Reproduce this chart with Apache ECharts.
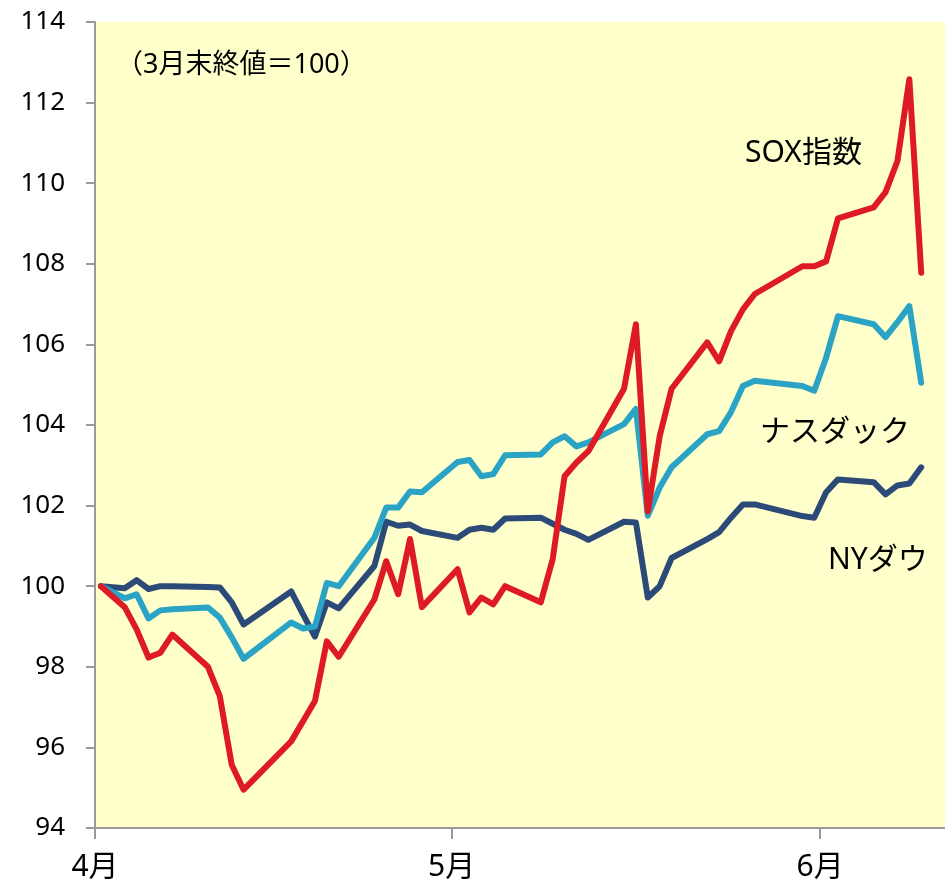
<!DOCTYPE html>
<html>
<head>
<meta charset="utf-8">
<script src="https://cdn.jsdelivr.net/npm/echarts@6/dist/echarts.min.js"></script>
<style>
  html, body { margin: 0; padding: 0; background: #fff; }
  #chart { width: 945px; height: 891px; }
</style>
</head>
<body>
<div id="chart"></div>
<script>
// 取引日（2017年）。先頭は3月末終値=100の基準点
var dates = ['4/1',
  '4/3','4/4','4/5','4/6','4/7','4/10','4/11','4/12','4/13',
  '4/17','4/18','4/19','4/20','4/21','4/24','4/25','4/26','4/27','4/28',
  '5/1','5/2','5/3','5/4','5/5','5/8','5/9','5/10','5/11','5/12',
  '5/15','5/16','5/17','5/18','5/19','5/22','5/23','5/24','5/25','5/26',
  '5/30','5/31','6/1','6/2','6/5','6/6','6/7','6/8','6/9']

var sox = [100,
  99.48,98.93,98.23,98.35,98.8,98.0,97.27,95.57,94.95,
  96.15,96.65,97.15,98.63,98.25,99.67,100.62,99.8,101.17,99.48,
  100.42,99.35,99.72,99.55,100.0,99.6,100.67,102.73,103.07,103.35,
  104.9,106.5,101.86,103.72,104.9,106.05,105.58,106.33,106.87,107.25,
  107.94,107.94,108.06,109.13,109.4,109.78,110.55,112.58,107.78]

var nasdaq = [100,
  99.7,99.8,99.2,99.4,99.43,99.47,99.22,98.73,98.2,
  99.1,98.95,99.0,100.08,100.0,101.2,101.95,101.95,102.35,102.33,
  103.08,103.13,102.73,102.78,103.25,103.27,103.57,103.72,103.47,103.57,
  104.02,104.4,101.75,102.45,102.95,103.77,103.85,104.32,104.97,105.1,
  104.97,104.85,105.67,106.7,106.5,106.18,106.55,106.95,105.05]

var dow = [100,
  99.95,100.15,99.93,100.0,100.0,99.98,99.97,99.6,99.05,
  99.87,99.3,98.75,99.6,99.45,100.5,101.6,101.5,101.53,101.37,
  101.2,101.4,101.45,101.4,101.68,101.7,101.55,101.4,101.3,101.15,
  101.6,101.58,99.72,100.0,100.7,101.17,101.34,101.7,102.03,102.03,
  101.74,101.7,102.33,102.65,102.58,102.28,102.5,102.55,102.95]

var monthTicks = [0, 30, 61]
var monthLabels = ['4月', '5月', '6月']

var seriesNames = ['SOX指数', 'ナスダック', 'NYダウ']
var seriesColors = ['#DE1A24', '#2BA3C4', '#2B4A78']

// 4/1からの日数（日付軸の目盛の間に点を置く）
function dayPos(s) {
  var p = s.split('/')
  var t = Date.UTC(2017, +p[0] - 1, +p[1]) - Date.UTC(2017, 3, 1)
  return t / 86400000 + 0.5
}

function pairs(vals) {
  var out = []
  for (var i = 0; i < vals.length; i++) {
    out.push([dayPos(dates[i]), vals[i]])
  }
  return out
}

var chart = echarts.init(document.getElementById('chart'))
var font = '"Noto Sans", "Noto Sans CJK JP", sans-serif'

var allSeries = [sox, nasdaq, dow].map(function (vals, i) {
  return {
    name: seriesNames[i],
    type: 'line',
    data: pairs(vals),
    showSymbol: false,
    animation: false,
    lineStyle: { color: seriesColors[i], width: 6, cap: 'round', join: 'round' },
    z: 3 - i
  }
})

var option = {
  backgroundColor: '#ffffff',
  textStyle: { fontFamily: font },
  grid: {
    left: 95,
    top: 22,
    right: 0,
    bottom: 63,
    show: true,
    backgroundColor: '#FFFFCC',
    borderWidth: 0
  },
  xAxis: {
    type: 'value',
    min: 0,
    max: 71.5,
    splitLine: { show: false },
    axisLine: { show: true, lineStyle: { color: '#999999', width: 2 } },
    axisTick: {
      show: true,
      length: 11,
      customValues: monthTicks,
      lineStyle: { color: '#999999', width: 2 }
    },
    axisLabel: {
      customValues: monthTicks,
      margin: 24,
      fontSize: 30,
      color: '#000',
      fontFamily: font,
      formatter: function (v) {
        return monthLabels[monthTicks.indexOf(v)] || ''
      }
    }
  },
  yAxis: {
    type: 'value',
    min: 94,
    max: 114,
    interval: 2,
    splitLine: { show: false },
    axisLine: { show: true, lineStyle: { color: '#999999', width: 2 } },
    axisTick: { show: true, length: 9, lineStyle: { color: '#999999', width: 2 } },
    axisLabel: { fontSize: 26, color: '#000', margin: 30, fontFamily: font }
  },
  graphic: [
    { type: 'text', left: 116, top: 52, style: { text: '（3月末終値＝100）', font: '27px ' + font, fill: '#000' } },
    { type: 'text', left: 745, top: 138, style: { text: 'SOX指数', font: '30px ' + font, fill: '#000' } },
    { type: 'text', left: 760, top: 417, style: { text: 'ナスダック', font: '30px ' + font, fill: '#000' } },
    { type: 'text', left: 828, top: 545, style: { text: 'NYダウ', font: '30px ' + font, fill: '#000' } }
  ],
  series: allSeries
}

chart.setOption(option)
</script>
</body>
</html>
